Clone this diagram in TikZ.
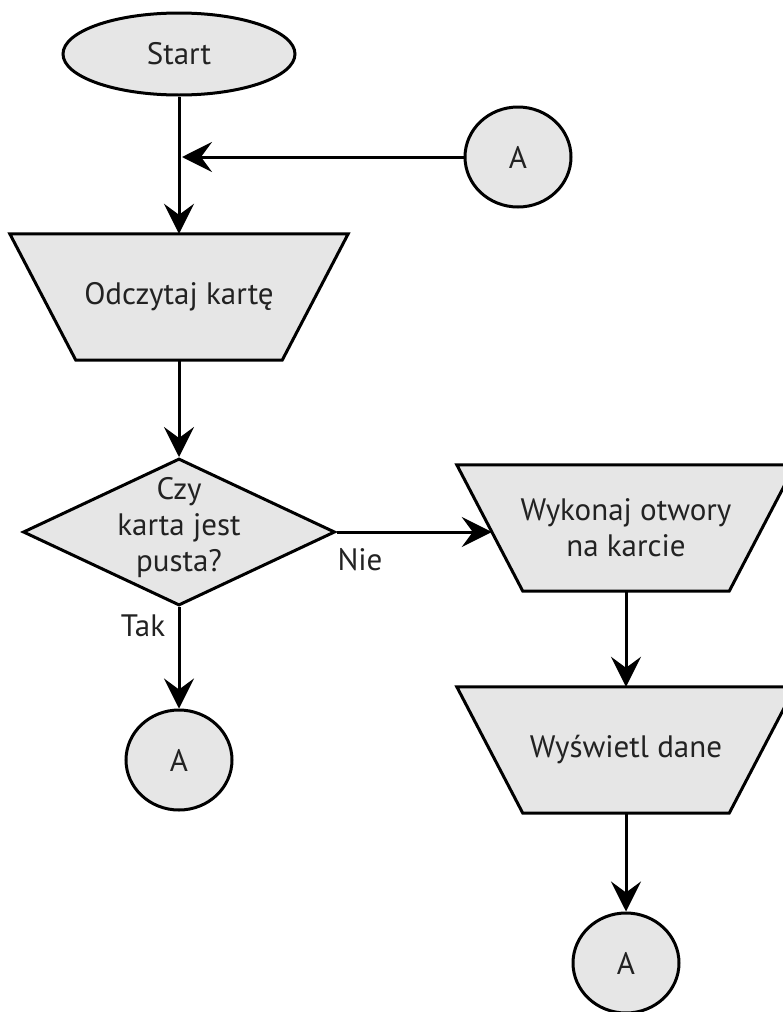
\documentclass[tikz,border=0pt]{standalone}
\usepackage{fontspec}
\setmainfont{PT Sans}
\usetikzlibrary{shapes.geometric,arrows.meta,backgrounds,calc}
\definecolor{boxfill}{HTML}{E6E6E6}
\definecolor{ink}{HTML}{222222}

\begin{document}
\begin{tikzpicture}[x=1pt,y=-1pt,
  every node/.style={font=\fontsize{31}{36}\selectfont, text=ink},
  shapeline/.style={draw=black, line width=3pt, fill=boxfill, line join=miter},
  terminal/.style={shapeline, ellipse, inner sep=0pt, minimum width=232pt, minimum height=82pt},
  connector/.style={shapeline, ellipse, inner sep=0pt, minimum width=106pt, minimum height=100pt},
  iotext/.style={rectangle, minimum width=338pt, minimum height=126pt, inner sep=0pt, align=center},
  decision/.style={shapeline, diamond, inner sep=0pt, minimum width=312pt, minimum height=147pt},
  flow/.style={line width=3pt, -{Stealth[length=30pt,width=30pt,inset=11pt]}}
]
\useasboundingbox (0,0) rectangle (783,1012);

% left column
\node[terminal] (start) at (179,54) {Start};
\node[iotext] (read) at (179,297) {Odczytaj kartę};
\node[decision] (dec) at (179,532) {};
\node[align=center] (dectext) at (179,528) {Czy\\karta jest\\pusta?};
\node[connector] (a2) at (179,760) {A};

% incoming connector
\node[connector] (a1) at (518,157) {A};

% right column
\node[iotext] (punch) at (626,528) {Wykonaj otwory\\na karcie};
\node[iotext] (show) at (626,750) {Wyświetl dane};
\node[connector] (a3) at (626,963) {A};

% input/output boxes: wide side on top, slanted sides 66pt in
\begin{scope}[on background layer]
  \foreach \n in {read,punch,show}
    \draw[shapeline] (\n.north west) -- (\n.north east)
      -- ([xshift=-66pt]\n.south east) -- ([xshift=66pt]\n.south west) -- cycle;
\end{scope}
\coordinate (punchin) at ($(punch.north west)!0.53!([xshift=66pt]punch.south west)$);

% branch labels
\node (nie) at (360,560) {Nie};
\node (tak) at (143,626) {Tak};

% connectors
\draw[flow] (start) -- (read.north);
\draw[flow] (a1) -- ([xshift=3pt]a1 -| start);
\draw[flow] (read.south) -- (dec);
\draw[flow] (dec.east) -- (dec.east -| punchin);
\draw[flow] (dec) -- (a2);
\draw[flow] (punch.south) -- (show.north);
\draw[flow] (show.south) -- (a3);
\end{tikzpicture}
\end{document}
